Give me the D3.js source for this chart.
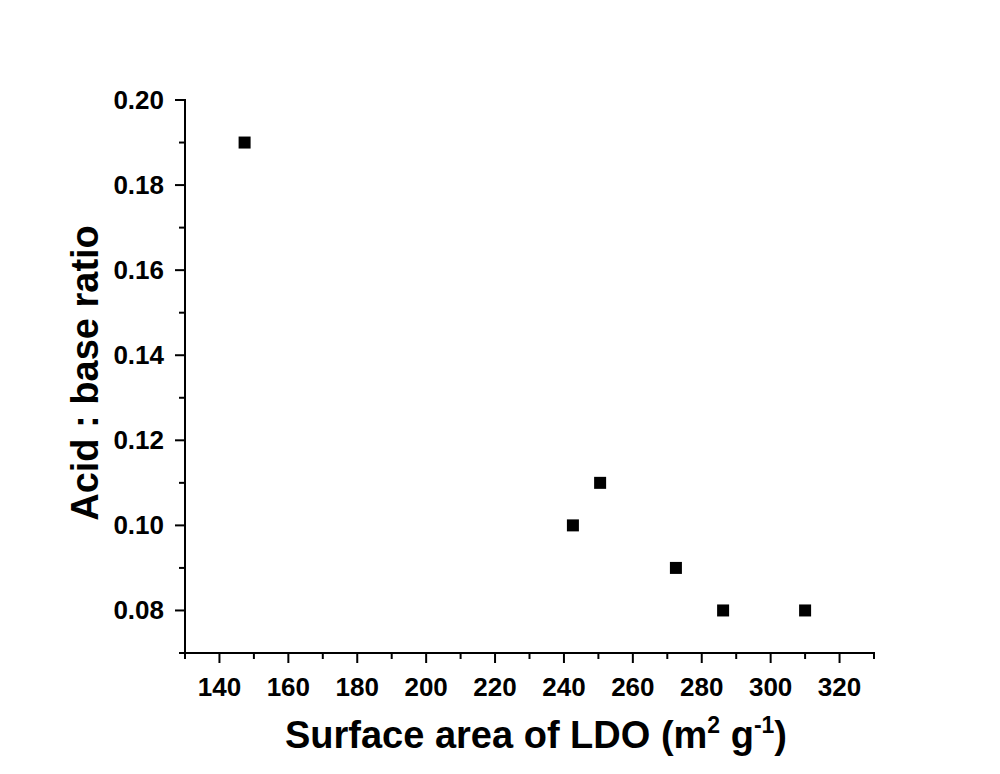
<!DOCTYPE html>
<html><head><meta charset="utf-8">
<script src="https://cdn.jsdelivr.net/npm/d3@7"></script>
<style>body{margin:0;background:#fff;}svg{display:block;}</style>
</head><body>
<script>
const surfaceArea = [147.3, 242.6, 250.5, 272.5, 286.2, 310.0];
const acidBaseRatio = [0.19, 0.10, 0.11, 0.09, 0.08, 0.08];
const xTicks = [140,160,180,200,220,240,260,280,300,320];
const yTicks = [0.08,0.10,0.12,0.14,0.16,0.18,0.20];

const W=1000,H=774;
const svg=d3.select("body").append("svg").attr("width",W).attr("height",H);
const x=d3.scaleLinear().domain([130,330]).range([185,874]);
const y=d3.scaleLinear().domain([0.07,0.20]).range([653,100]);
const font="'Liberation Sans', Arial, sans-serif";

// x axis
const xMinor=d3.range(130,331,10);
const gx=svg.append("g").attr("transform","translate(0,653)");
gx.append("line").attr("x1",x(130)-1).attr("x2",x(330)+1).attr("stroke","#000").attr("stroke-width",2);
gx.selectAll("line.mi").data(xMinor).join("line").attr("class","mi")
  .attr("x1",d=>x(d)).attr("x2",d=>x(d)).attr("y1",0).attr("y2",d=>xTicks.includes(d)?10:6)
  .attr("stroke","#000").attr("stroke-width",2);
gx.selectAll("text").data(xTicks).join("text")
  .attr("x",d=>x(d)).attr("y",43).attr("text-anchor","middle")
  .attr("font-family",font).attr("font-weight","bold").attr("font-size",26).text(d=>d);

// y axis
const yMinor=d3.range(7,21).map(v=>v/100);
const gy=svg.append("g").attr("transform","translate(185,0)");
gy.append("line").attr("y1",y(0.07)+1).attr("y2",y(0.20)-1).attr("stroke","#000").attr("stroke-width",2);
gy.selectAll("line.mi").data(yMinor).join("line").attr("class","mi")
  .attr("y1",d=>y(d)).attr("y2",d=>y(d)).attr("x1",0)
  .attr("x2",d=>yTicks.some(t=>Math.abs(t-d)<1e-9)?-10:-6)
  .attr("stroke","#000").attr("stroke-width",2);
gy.selectAll("text").data(yTicks).join("text")
  .attr("x",-21).attr("y",d=>y(d)+9).attr("text-anchor","end")
  .attr("font-family",font).attr("font-weight","bold").attr("font-size",26).text(d=>d.toFixed(2));

// points
const s=12;
svg.selectAll("rect.pt").data(surfaceArea).join("rect").attr("class","pt")
  .attr("x",(d,i)=>x(d)-s/2).attr("y",(d,i)=>y(acidBaseRatio[i])-s/2)
  .attr("width",s).attr("height",s).attr("fill","#000");

// titles
const xt=svg.append("text").attr("x",536).attr("y",748).attr("text-anchor","middle")
  .attr("font-family",font).attr("font-weight","bold").attr("font-size",38);
xt.append("tspan").text("Surface area of LDO (m");
xt.append("tspan").attr("font-size",23).attr("dy",-15).text("2");
xt.append("tspan").attr("dy",15).text(" g");
xt.append("tspan").attr("font-size",23).attr("dy",-15).text("-1");
xt.append("tspan").attr("dy",15).text(")");

svg.append("text").attr("transform","translate(98,373) rotate(-90)").attr("text-anchor","middle")
  .attr("font-family",font).attr("font-weight","bold").attr("font-size",38).text("Acid : base ratio");
</script>
</body></html>
